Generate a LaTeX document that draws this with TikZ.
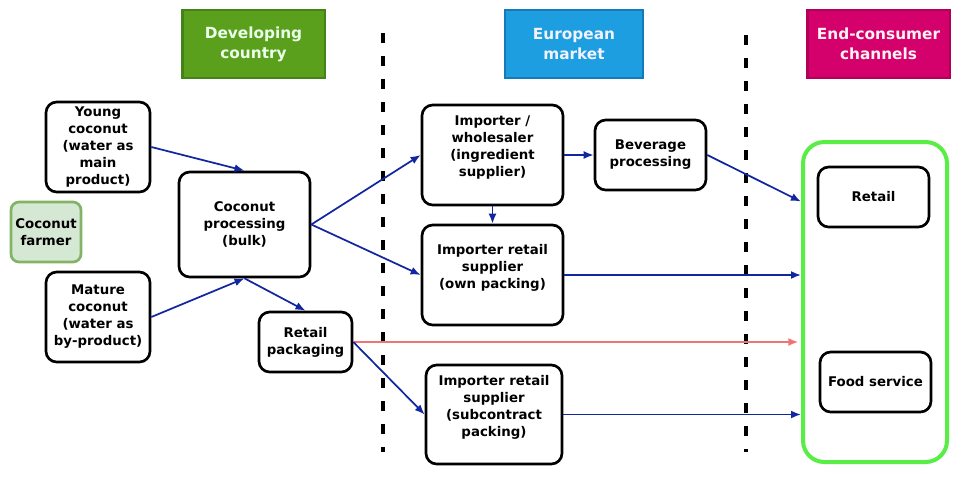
\documentclass[tikz,border=0pt]{standalone}
\usepackage{fontspec}
\setmainfont{DejaVu Sans}
\usetikzlibrary{calc,arrows.meta}
\definecolor{devfill}{RGB}{90,160,28}
\definecolor{devline}{RGB}{68,130,26}
\definecolor{eufill}{RGB}{28,158,224}
\definecolor{euline}{RGB}{22,122,186}
\definecolor{endfill}{RGB}{212,0,108}
\definecolor{endline}{RGB}{176,0,90}
\definecolor{farmfill}{RGB}{213,232,212}
\definecolor{farmline}{RGB}{130,179,102}
\definecolor{chanline}{RGB}{88,238,70}
\definecolor{flowblue}{RGB}{18,38,160}
\definecolor{flowred}{RGB}{240,116,116}
\begin{document}
\begin{tikzpicture}[>={Latex[length=7.5pt,width=6pt]},x=0.75pt,y=-0.75pt,
  box/.style={draw,line width=2pt,rounded corners=8pt,align=center,inner sep=2pt,
    font=\fontsize{10}{12.75}\selectfont\bfseries},
  hdr/.style={draw,line width=2pt,align=center,minimum width=107pt,minimum height=51pt,
    font=\fontsize{11.5}{15}\selectfont\bfseries},
  flow/.style={->,line width=1.3pt,draw=flowblue},
  divider/.style={line width=3pt,dash pattern=on 7.5pt off 9.75pt}]
\useasboundingbox (0,0) rectangle (961,476);
% column headers
\node[hdr,fill=devfill,draw=devline,text=green!8] (devhdr) at (253.5,44) {Developing\\country};
\node[hdr,fill=eufill,draw=euline,text=blue!5,minimum width=103.5pt] (euhdr) at (574,44) {European\\market};
\node[hdr,fill=endfill,draw=endline,text=red!5] (endhdr) at (878.5,44) {End-consumer\\channels};
\draw[divider] (383,33) -- (383,452);
\draw[divider] (746,35) -- (746,452);
% developing country
\node[box,minimum width=78pt,minimum height=67.5pt] (young) at (98,147) {Young\\coconut\\(water as\\main\\product)};
\node[box,fill=farmfill,draw=farmline,minimum width=52.5pt,minimum height=45pt,rounded corners=6pt] (farmer) at (46,232) {Coconut\\farmer};
\node[box,minimum width=78pt,minimum height=67.5pt] (mature) at (98,317) {Mature\\coconut\\(water as\\by-product)};
\node[box,minimum width=98.25pt,minimum height=78.75pt] (proc) at (244.5,224.5) {Coconut\\processing\\(bulk)};
\node[box,minimum width=69.75pt,minimum height=45pt] (pack) at (305.5,342) {Retail\\packaging};
% european market
\node[box,minimum width=105.75pt,minimum height=75pt] (wholesale) at (492.5,155) {Importer /\\wholesaler\\(ingredient\\supplier)\\\mbox{}};
\node[box,minimum width=83.25pt,minimum height=52.5pt] (bev) at (650.5,155) {Beverage\\processing};
\node[box,minimum width=105.75pt,minimum height=75pt] (own) at (492.5,275) {Importer retail\\supplier\\(own packing)\\\mbox{}};
\node[box,minimum width=102pt,minimum height=74.25pt] (sub) at (494,414.5) {Importer retail\\supplier\\(subcontract\\packing)\\\mbox{}};
% end-consumer channels
\node[draw=chanline,line width=3pt,rounded corners=16pt,minimum width=108pt,minimum height=240pt] (chan) at (875,302) {};
\node[box,minimum width=83.25pt,minimum height=45pt] (retail) at (873.5,197) {Retail};
\node[box,minimum width=83.25pt,minimum height=45pt] (food) at (875.5,382) {Food service};
% flows
\draw[flow] (young.east) -- (proc.north);
\draw[flow] (mature.east) -- (proc.south);
\draw[flow] (proc.south) -- (pack.north);
\draw[flow] (proc.east) -- (wholesale.west);
\draw[flow] (proc.east) -- (own.west);
\draw[flow] (wholesale.east) -- (bev.west);
\draw[flow] (wholesale.south) -- (own.north);
\draw[flow] (bev.east) -- ($(chan.north west)!0.19!(chan.south west)$);
\draw[flow] (own.east) -- (own.east -| chan.west);
\draw[->,line width=1.3pt,draw=flowred] (pack.east) -- ([xshift=-2pt]pack.east -| chan.west);
\draw[flow] (pack.east) -- (sub.west);
\draw[flow] (sub.east) -- (sub.east -| chan.west);
\end{tikzpicture}
\end{document}
